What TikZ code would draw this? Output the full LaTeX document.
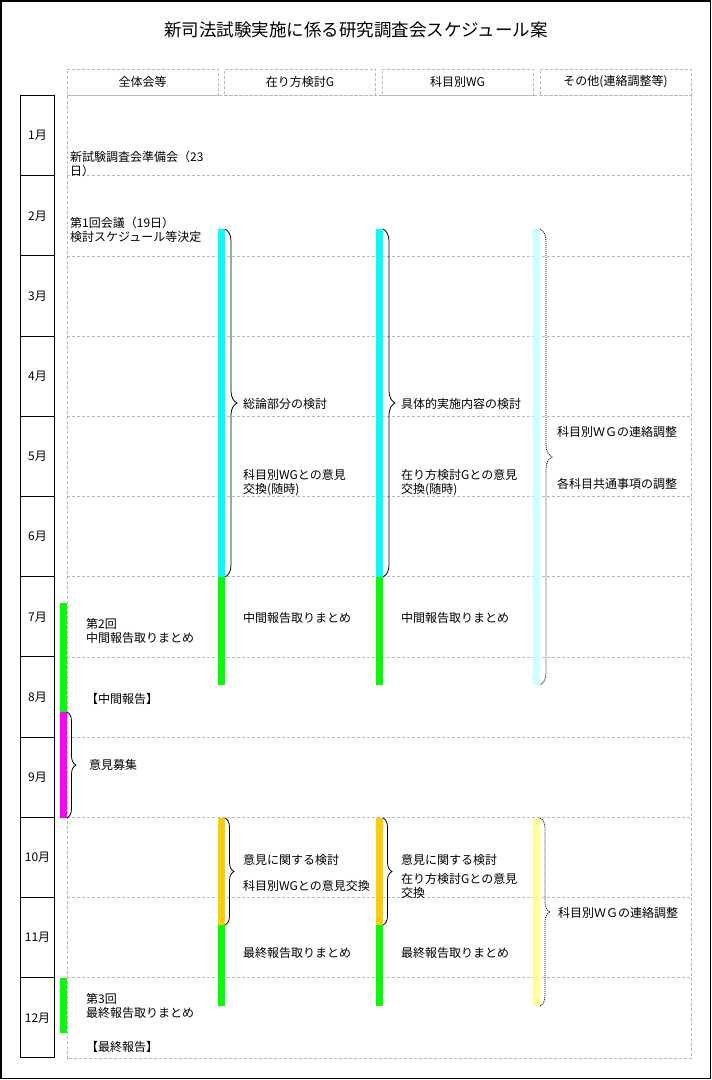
\documentclass[tikz,border=0pt]{standalone}
\usepackage{fontspec}
\setmainfont{Noto Sans CJK JP}
\usetikzlibrary{decorations.pathreplacing}
\definecolor{barcyan}{HTML}{00FFFF}
\definecolor{barpale}{HTML}{CCFFFF}
\definecolor{bargreen}{HTML}{00FF00}
\definecolor{barmagenta}{HTML}{FF00FF}
\definecolor{barorange}{HTML}{FFCC00}
\definecolor{barcream}{HTML}{FFFF99}

\begin{document}
\begin{tikzpicture}[x=1pt, y=-1pt,
    every node/.style={font=\fontsize{12}{14}\selectfont, inner sep=0pt},
    note/.style={anchor=west, align=left},
    head/.style={draw=gray!55, dash pattern=on 3pt off 2pt, line width=0.7pt, minimum width=151pt, minimum height=26pt},
    month/.style={draw, line width=0.9pt, minimum width=34pt, minimum height=80.2pt},
    gridline/.style={draw=gray!55, dash pattern=on 3pt off 2pt, line width=0.7pt},
    curly/.style={decorate, decoration={brace, amplitude=#1}, line width=0.8pt},
    dotcurly/.style={curly=#1, dash pattern=on 1pt off 1pt},
]
\useasboundingbox (0,0) rectangle (712,1080);
\draw[line width=1.2pt] (1,1) rectangle (710.5,1078.5);

\node[font=\fontsize{17.5}{20}\selectfont] (title) at (356,30) {新司法試験実施に係る研究調査会スケジュール案};

\node[head] (hAll) at (142.5,82) {全体会等};
\node[head] (hArikata) at (300,82) {在り方検討G};
\node[head] (hKamoku) at (457.5,82) {科目別WG};
\node[head] (hOther) at (615.5,82) {その他(連絡調整等)};

% body grid
\draw[gridline] (67,95.5) rectangle (691.5,1058.5);
\draw[gridline] (67,175.7) -- (691.5,175.7);
\draw[gridline] (67,255.9) -- (691.5,255.9);
\draw[gridline] (67,336.1) -- (691.5,336.1);
\draw[gridline] (67,416.3) -- (691.5,416.3);
\draw[gridline] (67,496.5) -- (691.5,496.5);
\draw[gridline] (67,576.7) -- (691.5,576.7);
\draw[gridline] (67,656.9) -- (691.5,656.9);
\draw[gridline] (67,737.1) -- (691.5,737.1);
\draw[gridline] (67,817.3) -- (691.5,817.3);
\draw[gridline] (67,897.5) -- (691.5,897.5);
\draw[gridline] (67,977.7) -- (691.5,977.7);

\node[month] (m1) at (37.5,135.6) {1月};
\node[month] (m2) at (37.5,215.8) {2月};
\node[month] (m3) at (37.5,296.0) {3月};
\node[month] (m4) at (37.5,376.2) {4月};
\node[month] (m5) at (37.5,456.4) {5月};
\node[month] (m6) at (37.5,536.6) {6月};
\node[month] (m7) at (37.5,616.8) {7月};
\node[month] (m8) at (37.5,697.0) {8月};
\node[month] (m9) at (37.5,777.2) {9月};
\node[month] (m10) at (37.5,857.4) {10月};
\node[month] (m11) at (37.5,937.6) {11月};
\node[month] (m12) at (37.5,1017.8) {12月};

% bars
\fill[bargreen] (60,603) rectangle (67,712);
\fill[barmagenta] (60,712) rectangle (67,818);
\fill[bargreen] (60,978) rectangle (67,1033);
\fill[barcyan] (218,229) rectangle (225,577);
\fill[bargreen] (218,577) rectangle (225,685);
\fill[barorange] (218,818) rectangle (225,925);
\fill[bargreen] (218,925) rectangle (225,1006);
\fill[barcyan] (376,229) rectangle (383,577);
\fill[bargreen] (376,577) rectangle (383,685);
\fill[barorange] (376,818) rectangle (383,925);
\fill[bargreen] (376,925) rectangle (383,1006);
\fill[barpale] (533,229) rectangle (540,685);
\fill[barcream] (533,818) rectangle (540,1006);

% braces
\draw[curly=9pt] (67,712) -- (67,818);
\draw[curly=12pt] (225,229) -- (225,577);
\draw[curly=12pt] (383,229) -- (383,577);
\draw[dotcurly=12pt] (540,229) -- (540,685);
\draw[curly=9pt] (225,818) -- (225,925);
\draw[curly=9pt] (383,818) -- (383,925);
\draw[dotcurly=10pt] (540,818) -- (540,1006);

% texts
\node[note] (tJunbi) at (70,164) {新試験調査会準備会（23\\日）};
\node[note] (tDaiikkai) at (70,230) {第1回会議（19日）\\検討スケジュール等決定};
\node[note] (tSoron) at (243,404) {総論部分の検討};
\node[note] (tIkenA) at (243,483) {科目別WGとの意見\\交換(随時)};
\node[note] (tGutai) at (401,404) {具体的実施内容の検討};
\node[note] (tIkenB) at (401,483) {在り方検討Gとの意見\\交換(随時)};
\node[note] (tRenraku) at (557,432) {科目別ＷＧの連絡調整};
\node[note] (tKyotsu) at (557,484) {各科目共通事項の調整};
\node[note] (tChukanA) at (243,618) {中間報告取りまとめ};
\node[note] (tChukanB) at (401,618) {中間報告取りまとめ};
\node[note] (tDainikai) at (86,630.5) {第2回\\中間報告取りまとめ};
\node[note] (tChukanHo) at (86,699) {【中間報告】};
\node[note] (tBoshu) at (89,765) {意見募集};
\node[note] (tKentoA) at (243,860) {意見に関する検討};
\node[note] (tKokanA) at (243,886) {科目別WGとの意見交換};
\node[note] (tKentoB) at (401,860) {意見に関する検討};
\node[note] (tKokanB) at (401,885.5) {在り方検討Gとの意見\\交換};
\node[note] (tSaishuA) at (243,953) {最終報告取りまとめ};
\node[note] (tSaishuB) at (401,953) {最終報告取りまとめ};
\node[note] (tRenraku2) at (558,913) {科目別ＷＧの連絡調整};
\node[note] (tDaisankai) at (86,1005.5) {第3回\\最終報告取りまとめ};
\node[note] (tSaishuHo) at (86,1047) {【最終報告】};

\end{tikzpicture}
\end{document}
